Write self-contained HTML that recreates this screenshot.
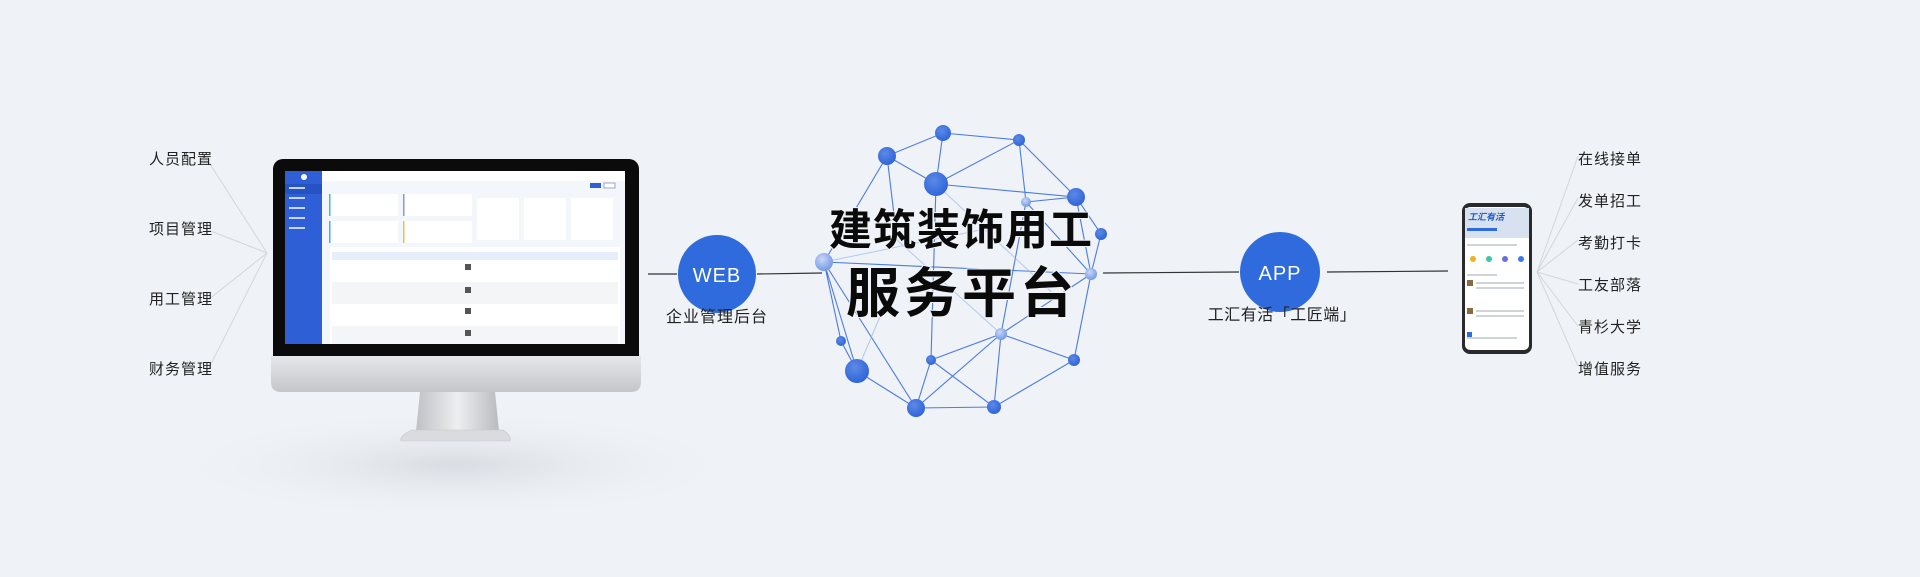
<!DOCTYPE html>
<html><head><meta charset="utf-8"><style>
html,body{margin:0;padding:0;width:1920px;height:577px;overflow:hidden;background:#eff2f7;font-family:"Liberation Sans","Noto Sans CJK SC",sans-serif}
</style></head><body>
<svg width="1920" height="577" viewBox="0 0 1920 577" xmlns="http://www.w3.org/2000/svg" style="position:absolute;left:0;top:0">
<defs>
<radialGradient id="sh" cx="50%" cy="50%" r="50%"><stop offset="0" stop-color="#d3d6dc" stop-opacity=".8"/><stop offset="1" stop-color="#eff2f7" stop-opacity="0"/></radialGradient>
<linearGradient id="chin" x1="0" y1="0" x2="0" y2="1"><stop offset="0" stop-color="#e6e7ea"/><stop offset="1" stop-color="#c4c6ca"/></linearGradient>
<linearGradient id="neck" x1="0" y1="0" x2="1" y2="0"><stop offset="0" stop-color="#bfc1c5"/><stop offset=".5" stop-color="#eceef0"/><stop offset="1" stop-color="#b9bbbf"/></linearGradient>
<radialGradient id="nd" cx="40%" cy="35%" r="70%"><stop offset="0" stop-color="#5d8ae6"/><stop offset="1" stop-color="#2d62d8"/></radialGradient>
<radialGradient id="nl" cx="40%" cy="35%" r="70%"><stop offset="0" stop-color="#c9d7f5"/><stop offset="1" stop-color="#6f95e4"/></radialGradient>
</defs>
<rect width="1920" height="577" fill="#eff2f7"/>
<ellipse cx="455" cy="465" rx="290" ry="55" fill="url(#sh)"/>

<!-- left labels -->
<g stroke="#d3d6dc" stroke-width="1" fill="none">
<line x1="208" y1="161" x2="267" y2="253"/><line x1="208" y1="230" x2="267" y2="253"/>
<line x1="208" y1="300" x2="267" y2="253"/><line x1="208" y1="370" x2="267" y2="253"/>
</g>
<g font-size="15" fill="#222" letter-spacing="1">
<text x="149" y="164">人员配置</text><text x="149" y="234">项目管理</text>
<text x="149" y="304">用工管理</text><text x="149" y="374">财务管理</text>
</g>

<!-- monitor -->
<rect x="273" y="159" width="366" height="233" rx="10" fill="#0b0b0c"/>
<path d="M271 356 H641 V382 Q641 392 631 392 H281 Q271 392 271 382Z" fill="url(#chin)"/>
<path d="M420 392 H495 L499 431 H416Z" fill="url(#neck)"/>
<path d="M412 430 H503 Q512 436 510 441 H401 Q399 436 412 430Z" fill="#d9dbde" stroke="#c3c5c9" stroke-width=".6"/>
<!-- screen -->
<rect x="285" y="171" width="340" height="173" fill="#f3f6fb"/>
<rect x="285" y="171" width="37" height="173" fill="#2f5fd6"/>
<rect x="285" y="184" width="37" height="10" fill="#2553c4"/>
<circle cx="304" cy="177" r="3" fill="#fff"/>
<g fill="#c8d4f4"><rect x="289" y="187" width="16" height="2"/><rect x="289" y="197" width="16" height="2"/><rect x="289" y="207" width="16" height="2"/><rect x="289" y="217" width="16" height="2"/><rect x="289" y="227" width="16" height="2"/></g>
<rect x="322" y="171" width="303" height="10" fill="#fff"/>
<rect x="590" y="183" width="11" height="5" fill="#2f5fd6"/><rect x="604" y="183" width="11" height="5" fill="#fff" stroke="#9ab"/>
<g fill="#fff"><rect x="329" y="194" width="69" height="22"/><rect x="403" y="194" width="69" height="22"/><rect x="329" y="221" width="69" height="22"/><rect x="403" y="221" width="69" height="22"/>
<rect x="477" y="198" width="42" height="42"/><rect x="524" y="198" width="42" height="42"/><rect x="571" y="198" width="42" height="42"/></g>
<rect x="329" y="194" width="1.5" height="22" fill="#3cc6a6"/><rect x="403" y="194" width="1.5" height="22" fill="#8b95e0"/>
<rect x="329" y="221" width="1.5" height="22" fill="#3bb5e8"/><rect x="403" y="221" width="1.5" height="22" fill="#f0c040"/>
<rect x="330" y="247" width="290" height="97" fill="#fff"/>
<rect x="332" y="252" width="286" height="8" fill="#e6eefb"/>
<g fill="#f4f5f7"><rect x="332" y="282" width="286" height="22"/><rect x="332" y="326" width="286" height="18"/></g>
<g fill="#555"><rect x="465" y="264" width="6" height="6"/><rect x="465" y="287" width="6" height="6"/><rect x="465" y="308" width="6" height="6"/><rect x="465" y="330" width="6" height="6"/></g>

<!-- WEB -->
<g stroke="#333" stroke-width="1.2"><line x1="648" y1="274" x2="677" y2="274"/><line x1="757" y1="274" x2="822" y2="273"/>
<line x1="1103" y1="273" x2="1239" y2="272"/><line x1="1327" y1="272" x2="1448" y2="271"/></g>
<circle cx="717" cy="274" r="39" fill="#2f6bdc"/>
<text x="717" y="282" font-size="20" fill="#fff" text-anchor="middle" letter-spacing="1">WEB</text>
<text x="717" y="322" font-size="16" fill="#222" text-anchor="middle" letter-spacing="1">企业管理后台</text>
<circle cx="1280" cy="272" r="40" fill="#2f6bdc"/>
<text x="1280" y="280" font-size="20" fill="#fff" text-anchor="middle" letter-spacing="1">APP</text>
<text x="1282" y="320" font-size="16" fill="#222" text-anchor="middle" letter-spacing="0.5">工汇有活「工匠端」</text>

<!-- network -->
<g stroke="#3a6fdc" stroke-width="1.1" fill="none" opacity=".9">
<path d="M887 156 L943 133 L1019 140 M887 156 L936 184 L943 133 M936 184 L1019 140 L1026 202 M1019 140 L1076 197 L936 184 M1026 202 L1076 197 L1101 234 L1091 274 L1074 360 L1001 334 L931 360 M887 156 L824 262 L841 341 L857 371 L916 408 L994 407 L1074 360 M824 262 L857 371 M824 262 L916 408 M931 360 L916 408 M931 360 L994 407 L1001 334 L931 360 M1001 334 L916 408 M1076 197 L1091 274 L1026 202 M1091 274 L1001 334 M887 156 L897 240 M824 262 L1091 274 M936 184 L931 360 M1001 334 L1026 202"/>
</g>
<g stroke="#9db6ec" stroke-width="1" opacity=".7" fill="none"><path d="M857 371 L887 300 M897 240 L1001 334 M936 184 L1060 300 M824 262 L980 230"/></g>
<g>
<circle cx="887" cy="156" r="9" fill="url(#nd)"/><circle cx="943" cy="133" r="8" fill="url(#nd)"/><circle cx="1019" cy="140" r="6" fill="url(#nd)"/>
<circle cx="936" cy="184" r="12" fill="url(#nd)"/><circle cx="1076" cy="197" r="9" fill="url(#nd)"/><circle cx="1026" cy="202" r="5" fill="url(#nl)"/>
<circle cx="1101" cy="234" r="6" fill="url(#nd)"/><circle cx="824" cy="262" r="9" fill="url(#nl)"/><circle cx="1091" cy="274" r="6" fill="url(#nl)"/>
<circle cx="1001" cy="334" r="6" fill="url(#nl)"/><circle cx="841" cy="341" r="5" fill="url(#nd)"/><circle cx="857" cy="371" r="12" fill="url(#nd)"/>
<circle cx="931" cy="360" r="5" fill="url(#nd)"/><circle cx="1074" cy="360" r="6" fill="url(#nd)"/><circle cx="916" cy="408" r="9" fill="url(#nd)"/>
<circle cx="994" cy="407" r="7" fill="url(#nd)"/>
</g>
<text x="961" y="245" font-size="43" font-weight="bold" fill="#0a0a0a" text-anchor="middle" letter-spacing="1" style="paint-order:stroke" stroke="#eff2f7" stroke-width="2">建筑装饰用工</text>
<text x="962" y="312" font-size="54" font-weight="bold" fill="#0a0a0a" text-anchor="middle" letter-spacing="4" style="paint-order:stroke" stroke="#eff2f7" stroke-width="2">服务平台</text>

<!-- phone -->
<g stroke="#d3d6dc" stroke-width="1" fill="none">
<line x1="1537" y1="272" x2="1578" y2="156"/><line x1="1537" y1="272" x2="1578" y2="198"/><line x1="1537" y1="272" x2="1578" y2="240"/>
<line x1="1537" y1="272" x2="1578" y2="284"/><line x1="1537" y1="272" x2="1578" y2="326"/><line x1="1537" y1="272" x2="1578" y2="366"/>
</g>
<rect x="1462" y="203" width="70" height="151" rx="8" fill="#2a2a2c"/>
<rect x="1465" y="207" width="64" height="143" rx="5" fill="#fff"/>
<rect x="1465" y="208" width="64" height="30" fill="#d8e1ef"/>
<text x="1468" y="220" font-size="9" font-weight="bold" fill="#1f56c6" font-style="italic">工汇有活</text>
<rect x="1467" y="228" width="30" height="3" fill="#2f6bdc"/>
<g><circle cx="1473" cy="259" r="3" fill="#f0b020"/><circle cx="1489" cy="259" r="3" fill="#3cc6a6"/><circle cx="1505" cy="259" r="3" fill="#6a6ee0"/><circle cx="1521" cy="259" r="3" fill="#3a7ae6"/></g>
<g fill="#cfd3da"><rect x="1467" y="244" width="50" height="2"/><rect x="1467" y="274" width="30" height="2"/><rect x="1476" y="282" width="48" height="2"/><rect x="1476" y="287" width="48" height="2"/><rect x="1476" y="310" width="48" height="2"/><rect x="1476" y="315" width="48" height="2"/><rect x="1467" y="337" width="50" height="2"/></g>
<rect x="1467" y="280" width="6" height="6" fill="#8a6a40"/><rect x="1467" y="308" width="6" height="6" fill="#8a6a40"/>
<rect x="1467" y="332" width="5" height="5" fill="#2f6bdc"/>
<g font-size="15" fill="#222" letter-spacing="1">
<text x="1578" y="164">在线接单</text><text x="1578" y="206">发单招工</text><text x="1578" y="248">考勤打卡</text>
<text x="1578" y="290">工友部落</text><text x="1578" y="332">青杉大学</text><text x="1578" y="374">增值服务</text>
</g>
</svg>
</body></html>
